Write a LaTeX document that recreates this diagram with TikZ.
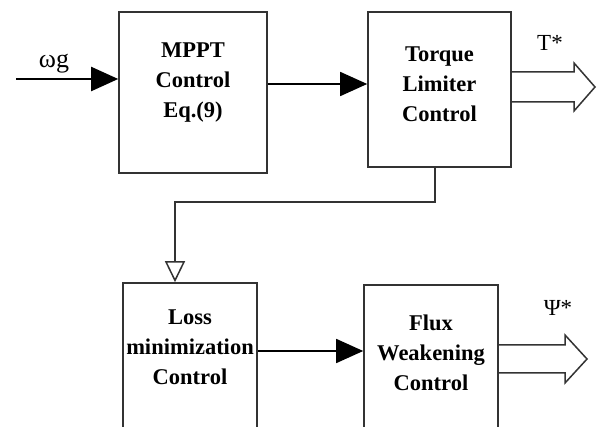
\documentclass[tikz,border=0pt]{standalone}
\usepackage{fontspec}
\setmainfont{Liberation Serif}
\usetikzlibrary{arrows.meta}

\begin{document}
\begin{tikzpicture}
            [x=1pt, y=-1pt,
             myBlock/.style={rectangle,
                        draw=black!80,
                        line width=1.6pt,
                        inner sep=0pt},
             myText/.style={align=center,
                        font=\fontsize{22.5}{30}\selectfont\bfseries},
             mySignal/.style={font=\fontsize{23}{28}\selectfont},
             solidArrow/.style={line width=2pt, -{Triangle[length=27pt,width=24pt]}},
             hollowArrow/.style={line width=1.5pt, draw=black!80, -{Triangle[open,length=21pt,width=20pt]}},
             wideArrow/.style={draw=black!80, line width=1.5pt, line join=miter}]

            \path[use as bounding box, clip] (0,0) rectangle (597,427);

            \node[myBlock, minimum width=148pt, minimum height=161pt] (mppt) at (193,92.5) {};
            \node[myBlock, minimum width=143pt, minimum height=155pt] (torque) at (439.5,89.5) {};
            \node[myBlock, minimum width=134pt, minimum height=162pt] (loss) at (190,364) {};
            \node[myBlock, minimum width=134pt, minimum height=162pt] (flux) at (431,366) {};

            \node[myText] (mpptText) at (193,83) {MPPT\\Control\\Eq.(9)};
            \node[myText] (torqueText) at (439.5,84) {Torque\\Limiter\\Control};
            \node[myText] (lossText) at (190,347) {Loss\\minimization\\Control};
            \node[myText] (fluxText) at (431,353) {Flux\\Weakening\\Control};

            \node[mySignal, font=\fontsize{26}{30}\selectfont] (omegaIn) at (54,64) {ωg};
            \node[mySignal] (torqueRef) at (550,43) {T*};
            \node[mySignal] (fluxRef) at (558,308) {Ψ*};

            \coordinate (omegaStart) at (16,79);

            \draw[solidArrow] (omegaStart) -- (omegaStart -| mppt.west);
            \draw[solidArrow, line width=1.6pt] (mppt.east |- 0,84) -- (torque.west |- 0,84);
            \draw[solidArrow, line width=1.6pt] (loss.east |- 0,351) -- (flux.west |- 0,351);
            \draw[hollowArrow] ([xshift=-4.5pt]torque.south) -- ++(0,34) -| ([xshift=-15pt]loss.north);

            % wide outputs
            \draw[wideArrow] (torque.east |- 0,72) -- (574,72) -- (574,63) -- (595,87) -- (574,111) -- (574,102) -- (torque.east |- 0,102);
            \draw[wideArrow] (flux.east |- 0,345) -- (565,345) -- (565,335) -- (587,359) -- (565,383) -- (565,373) -- (flux.east |- 0,373);
        \end{tikzpicture}
\end{document}
